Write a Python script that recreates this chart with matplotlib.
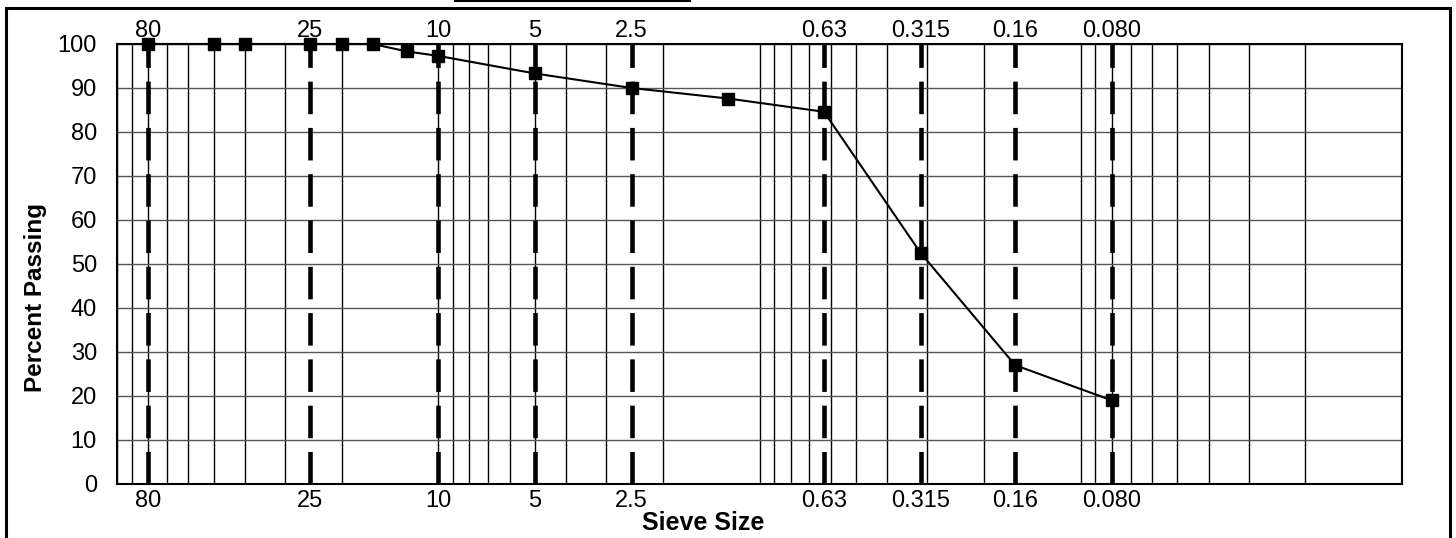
import matplotlib
matplotlib.use("Agg")
import matplotlib.pyplot as plt
from matplotlib.ticker import FixedLocator, NullFormatter, LogLocator
from matplotlib.lines import Line2D
from matplotlib.patches import Rectangle

plt.rcParams['font.family'] = ['Liberation Sans', 'DejaVu Sans']

# Data
sieve_sizes = [80, 50, 40, 25, 20, 16, 12.5, 10, 5, 2.5, 1.25, 0.63, 0.315, 0.16, 0.08]
percent_passing = [100, 100, 100, 100, 100, 100, 98.3, 97.3, 93.3, 90.0, 87.6, 84.6, 52.5, 27.0, 19.0]

label_sieves = [80, 25, 10, 5, 2.5, 0.63, 0.315, 0.16, 0.08]
label_texts = ['80', '25', '10', '5', '2.5', '0.63', '0.315', '0.16', '0.080']
y_ticks = [0, 10, 20, 30, 40, 50, 60, 70, 80, 90, 100]

fig = plt.figure(figsize=(14.56, 5.38), dpi=100)
ax = fig.add_axes([117/1456, 54/538, 1285/1456, 440/538])

ax.set_xscale('log')
ax.set_xlim(100, 0.01)
ax.set_ylim(0, 100)

# grid
ax.xaxis.set_major_locator(LogLocator(base=10, numticks=10))
ax.xaxis.set_minor_locator(LogLocator(base=10, subs=range(2, 10), numticks=20))
ax.grid(True, axis='x', which='both', color='black', linewidth=1.0)
ax.set_yticks(y_ticks)
ax.grid(True, axis='y', which='major', color='#555555', linewidth=1.0)
ax.set_axisbelow(True)

# dashed sieve lines
for s in label_sieves:
    ax.plot([s, s], [0, 100], color='black', linewidth=3.3,
            dashes=(7.1, 3.0), solid_capstyle='butt', dash_capstyle='butt', zorder=3)

# grading curve
ax.plot(sieve_sizes, percent_passing, color='black', linewidth=1.5,
        marker='s', markersize=8.5, markerfacecolor='black',
        markeredgecolor='black', zorder=4, clip_on=False)

# ticks
ax.xaxis.set_major_formatter(NullFormatter())
ax.xaxis.set_minor_formatter(NullFormatter())
ax.tick_params(axis='x', which='both', length=0)
ax.tick_params(axis='y', length=0, pad=14.5, labelsize=17)

secb = ax.secondary_xaxis('bottom')
secb.set_xticks(label_sieves)
secb.set_xticklabels(label_texts)
secb.tick_params(length=0, pad=4, labelsize=17)
secb.xaxis.set_minor_locator(FixedLocator([]))
secb.spines['bottom'].set_visible(False)

sect = ax.secondary_xaxis('top')
sect.set_xticks(label_sieves)
sect.set_xticklabels(label_texts)
sect.tick_params(length=0, pad=1.6, labelsize=17)
sect.xaxis.set_minor_locator(FixedLocator([]))
sect.spines['top'].set_visible(False)

for sp in ax.spines.values():
    sp.set_color('black')
    sp.set_linewidth(1.5)

fig.text(36/1456, 1 - 298/538, 'Percent Passing', fontsize=17.5, fontweight='bold',
         rotation=90, ha='center', va='center')
fig.text(703/1456, 1 - 523/538, 'Sieve Size', fontsize=18, fontweight='bold',
         ha='center', va='center')

# outer frame of the scanned figure
fig.add_artist(Rectangle((6/1456, -0.02), 1444/1456, 1.02 - 8/538, transform=fig.transFigure,
                         fill=False, edgecolor='black', linewidth=2.2))
fig.add_artist(Line2D([455/1456, 690/1456], [1 - 1/538, 1 - 1/538], transform=fig.transFigure,
                      color='black', linewidth=1.5))

fig.savefig('out.png', dpi=100)
